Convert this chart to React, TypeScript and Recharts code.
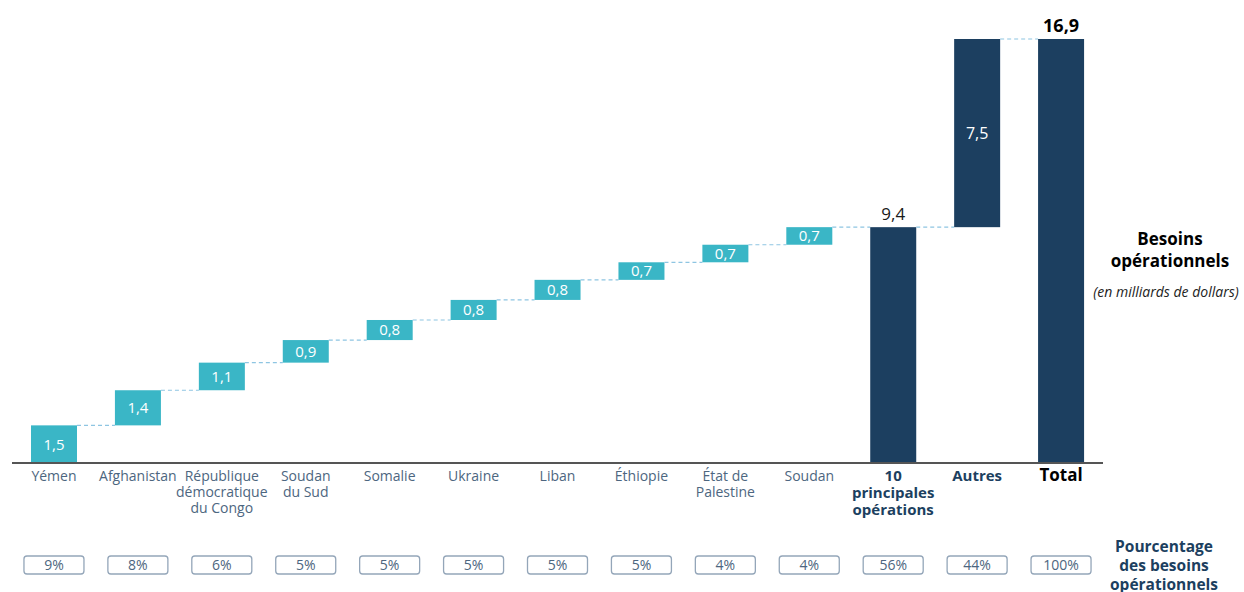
import React from "react";
import { Bar, BarChart, Cell, LabelList, XAxis, YAxis } from "recharts";

const categories = [
  "Yémen",
  "Afghanistan",
  "République\ndémocratique\ndu Congo",
  "Soudan\ndu Sud",
  "Somalie",
  "Ukraine",
  "Liban",
  "Éthiopie",
  "État de\nPalestine",
  "Soudan",
  "10\nprincipales\nopérations",
  "Autres",
  "Total",
];
const kinds = [
  "country", "country", "country", "country", "country", "country", "country",
  "country", "country", "country", "subtotal", "other", "total",
];
const bases = [0, 1.5, 2.9, 4.0, 4.9, 5.7, 6.5, 7.3, 8.0, 8.7, 0, 9.4, 0];
const values = [1.5, 1.4, 1.1, 0.9, 0.8, 0.8, 0.8, 0.7, 0.7, 0.7, 9.4, 7.5, 16.9];
const percents = ["9%", "8%", "6%", "5%", "5%", "5%", "5%", "5%", "4%", "4%", "56%", "44%", "100%"];

const W = 1244;
const H = 592;
const AXIS_H = 129;
const MARGIN = { top: 39, right: 141, bottom: 0, left: 12 };
const BAND = (W - MARGIN.left - MARGIN.right) / categories.length;

const TEAL = "#3ab6c6";
const NAVY = "#1c3f60";
const LABEL = "#4d6680";
const FONT = "'Open Sans', sans-serif";

const data = categories.map((name, i) => ({
  name,
  base: bases[i],
  value: values[i],
  kind: kinds[i],
  pct: percents[i],
}));

function StepShape(props: any) {
  const { x, y, width, height, index, fill } = props;
  return (
    <g>
      <rect x={x} y={y} width={width} height={height} fill={fill} />
      {index < categories.length - 1 && (
        <line
          x1={x + width}
          x2={x + BAND}
          y1={y}
          y2={y}
          stroke="#8ec5e2"
          strokeWidth={1.2}
          strokeDasharray="4 3"
        />
      )}
    </g>
  );
}

function ValueLabel(props: any) {
  const { x, y, width, height, index } = props;
  const kind = kinds[index];
  const text = String(values[index]).replace(".", ",");
  const cx = x + width / 2;
  if (kind === "subtotal") {
    return (
      <text x={cx} y={y - 7} textAnchor="middle" fontSize={17} fill="#1a1a1a" fontFamily={FONT}>
        {text}
      </text>
    );
  }
  if (kind === "total") {
    return (
      <text x={cx} y={y - 7} textAnchor="middle" fontSize={18} fontWeight={700} fill="#000" fontFamily={FONT}>
        {text}
      </text>
    );
  }
  return (
    <text
      x={cx}
      y={y + height / 2}
      dy="0.36em"
      textAnchor="middle"
      fontSize={kind === "other" ? 16 : 15}
      fill="#fff"
      fontFamily={FONT}
    >
      {text}
    </text>
  );
}

function CategoryTick(props: any) {
  const { x, y, payload } = props;
  const i = payload.index;
  const kind = kinds[i];
  const lines = String(payload.value).split("\n");
  const axisY = y - 8;
  const bold = kind === "subtotal" || kind === "other" || kind === "total";
  const color = kind === "total" ? "#000" : bold ? NAVY : LABEL;
  const size = kind === "total" ? 17 : bold ? 15 : 14;
  const lh = bold ? 17 : 16;
  return (
    <g>
      <text textAnchor="middle" fontFamily={FONT} fontSize={size} fontWeight={bold ? 700 : 400} fill={color}>
        {lines.map((l, k) => (
          <tspan key={k} x={x} y={axisY + 18 + k * lh}>
            {l}
          </tspan>
        ))}
      </text>
      <rect x={x - 30} y={axisY + 93} width={60} height={18} rx={3} fill="#fff" stroke="#94a6b9" strokeWidth={1.3} />
      <text x={x} y={axisY + 107} textAnchor="middle" fontFamily={FONT} fontSize={14} fill={LABEL}>
        {percents[i]}
      </text>
    </g>
  );
}

export default function App() {
  return (
    <div style={{ position: "relative", width: W, height: H, background: "#fff", fontFamily: FONT }}>
      <style>{"body{margin:0}"}</style>
      <BarChart width={W} height={H} data={data} margin={MARGIN} barSize={46}>
        <XAxis
          dataKey="name"
          interval={0}
          height={AXIS_H}
          tickLine={false}
          axisLine={{ stroke: "#555", strokeWidth: 2 }}
          tick={<CategoryTick />}
        />
        <YAxis hide domain={[0, 16.9]} />
        <Bar dataKey="base" stackId="w" fill="transparent" isAnimationActive={false} />
        <Bar dataKey="value" stackId="w" shape={<StepShape />} isAnimationActive={false}>
          {data.map((d, i) => (
            <Cell key={i} fill={d.kind === "country" ? TEAL : NAVY} />
          ))}
          <LabelList content={<ValueLabel />} />
        </Bar>
      </BarChart>
      <div
        style={{
          position: "absolute",
          left: 1100,
          top: 228,
          width: 140,
          textAlign: "center",
          fontWeight: 700,
          fontSize: 17,
          lineHeight: "22px",
          color: "#000",
        }}
      >
        Besoins
        <br />
        opérationnels
      </div>
      <div
        style={{
          position: "absolute",
          left: 1084,
          top: 282,
          width: 164,
          textAlign: "center",
          fontStyle: "italic",
          fontSize: 14,
          color: "#222",
        }}
      >
        (en milliards de dollars)
      </div>
      <div
        style={{
          position: "absolute",
          left: 1096,
          top: 537,
          width: 136,
          textAlign: "center",
          fontWeight: 700,
          fontSize: 15.5,
          lineHeight: "19px",
          color: NAVY,
        }}
      >
        Pourcentage
        <br />
        des besoins
        <br />
        opérationnels
      </div>
    </div>
  );
}
